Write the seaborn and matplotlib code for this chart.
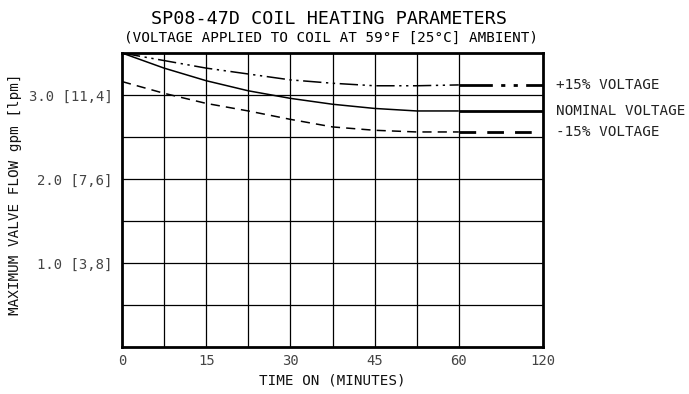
import matplotlib
matplotlib.use("Agg")
import matplotlib.pyplot as plt
import seaborn as sns
import pandas as pd
import numpy as np

# ---- data ----
time_min = [0, 7.5, 15, 22.5, 30, 37.5, 45, 52.5, 60, 120]
plus15 = [3.50, 3.41, 3.32, 3.25, 3.18, 3.14, 3.11, 3.11, 3.12, 3.12]
nominal = [3.50, 3.32, 3.17, 3.05, 2.96, 2.89, 2.84, 2.81, 2.81, 2.81]
minus15 = [3.16, 3.02, 2.90, 2.81, 2.71, 2.62, 2.58, 2.56, 2.56, 2.56]
series_names = ["+15% VOLTAGE", "NOMINAL VOLTAGE", "-15% VOLTAGE"]
x_tick_values = [0, 15, 30, 45, 60, 120]
x_tick_labels = ["0", "15", "30", "45", "60", "120"]
y_tick_values = [1.0, 2.0, 3.0]
y_tick_labels = ["1.0 [3,8]", "2.0 [7,6]", "3.0 [11,4]"]


def to_pos(t):
    # 0-60 min linear (one grid cell = 7.5 min), 60-120 compressed into two cells
    t = np.asarray(t, dtype=float)
    return np.where(t <= 60, t / 7.5, 8 + (t - 60) / 30.0)


FONT = dict(family="DejaVu Sans Mono")
sns.set_theme(style="white")
plt.rcParams["font.family"] = ["DejaVu Sans Mono", "DejaVu Sans"]

fig = plt.figure(figsize=(6.89, 3.94), dpi=100)
ax = fig.add_axes([122 / 689, 47 / 394, 421 / 689, 294 / 394])

pos = to_pos(time_min)
styles = [(0, (12, 3, 1.5, 3, 1.5, 3)), (0, ()), (0, (6, 4))]
for name, vals, ls in zip(series_names, [plus15, nominal, minus15], styles):
    df = pd.DataFrame({"pos": pos, "flow": vals})
    sns.lineplot(data=df.iloc[:9], x="pos", y="flow", ax=ax, color="black",
                 lw=1.1, linestyle=ls, estimator=None, sort=False)
    sns.lineplot(data=df.iloc[8:], x="pos", y="flow", ax=ax, color="black",
                 lw=2.0, linestyle=ls, estimator=None, sort=False)
    ax.annotate(name, xy=(1.0, vals[-1]), xycoords=("axes fraction", "data"),
                xytext=(9, 0), textcoords="offset points", va="center",
                ha="left", fontsize=10.3, color="#222222", **FONT)

ax.set_xlim(0, 10)
ax.set_ylim(0, 3.5)
grid_x = list(to_pos([7.5, 15, 22.5, 30, 37.5, 45, 52.5, 60]))
for gx in grid_x:
    ax.axvline(gx, color="black", lw=0.9, zorder=0)
for gy in np.arange(0.5, 3.5, 0.5):
    ax.axhline(gy, color="black", lw=0.9, zorder=0)

ax.set_xticks(to_pos(x_tick_values))
ax.set_xticklabels(x_tick_labels, fontsize=10, color="#444444", **FONT)
ax.set_yticks(y_tick_values)
ax.set_yticklabels(y_tick_labels, fontsize=10, color="#444444", **FONT)
ax.tick_params(axis="x", length=0, pad=5)
ax.tick_params(axis="y", length=0, pad=7)
ax.set_xlabel("TIME ON (MINUTES)", fontsize=10.3, color="#111111", labelpad=4, **FONT)
ax.set_ylabel("MAXIMUM VALVE FLOW gpm [lpm]", fontsize=10.3, color="#111111", **FONT)
ax.yaxis.set_label_coords(-0.238, 0.52)
for s in ax.spines.values():
    s.set_visible(True)
    s.set_color("black")
    s.set_linewidth(2.0)

fig.text(329 / 689, 1 - 19 / 394, "SP08-47D COIL HEATING PARAMETERS", ha="center",
         va="center", fontsize=13.2, color="black", **FONT)
fig.text(331 / 689, 1 - 38 / 394, "(VOLTAGE APPLIED TO COIL AT 59\u00b0F [25\u00b0C] AMBIENT)",
         ha="center", va="center", fontsize=10.3, color="black", **FONT)

fig.savefig("out.png", dpi=100, facecolor="white")
